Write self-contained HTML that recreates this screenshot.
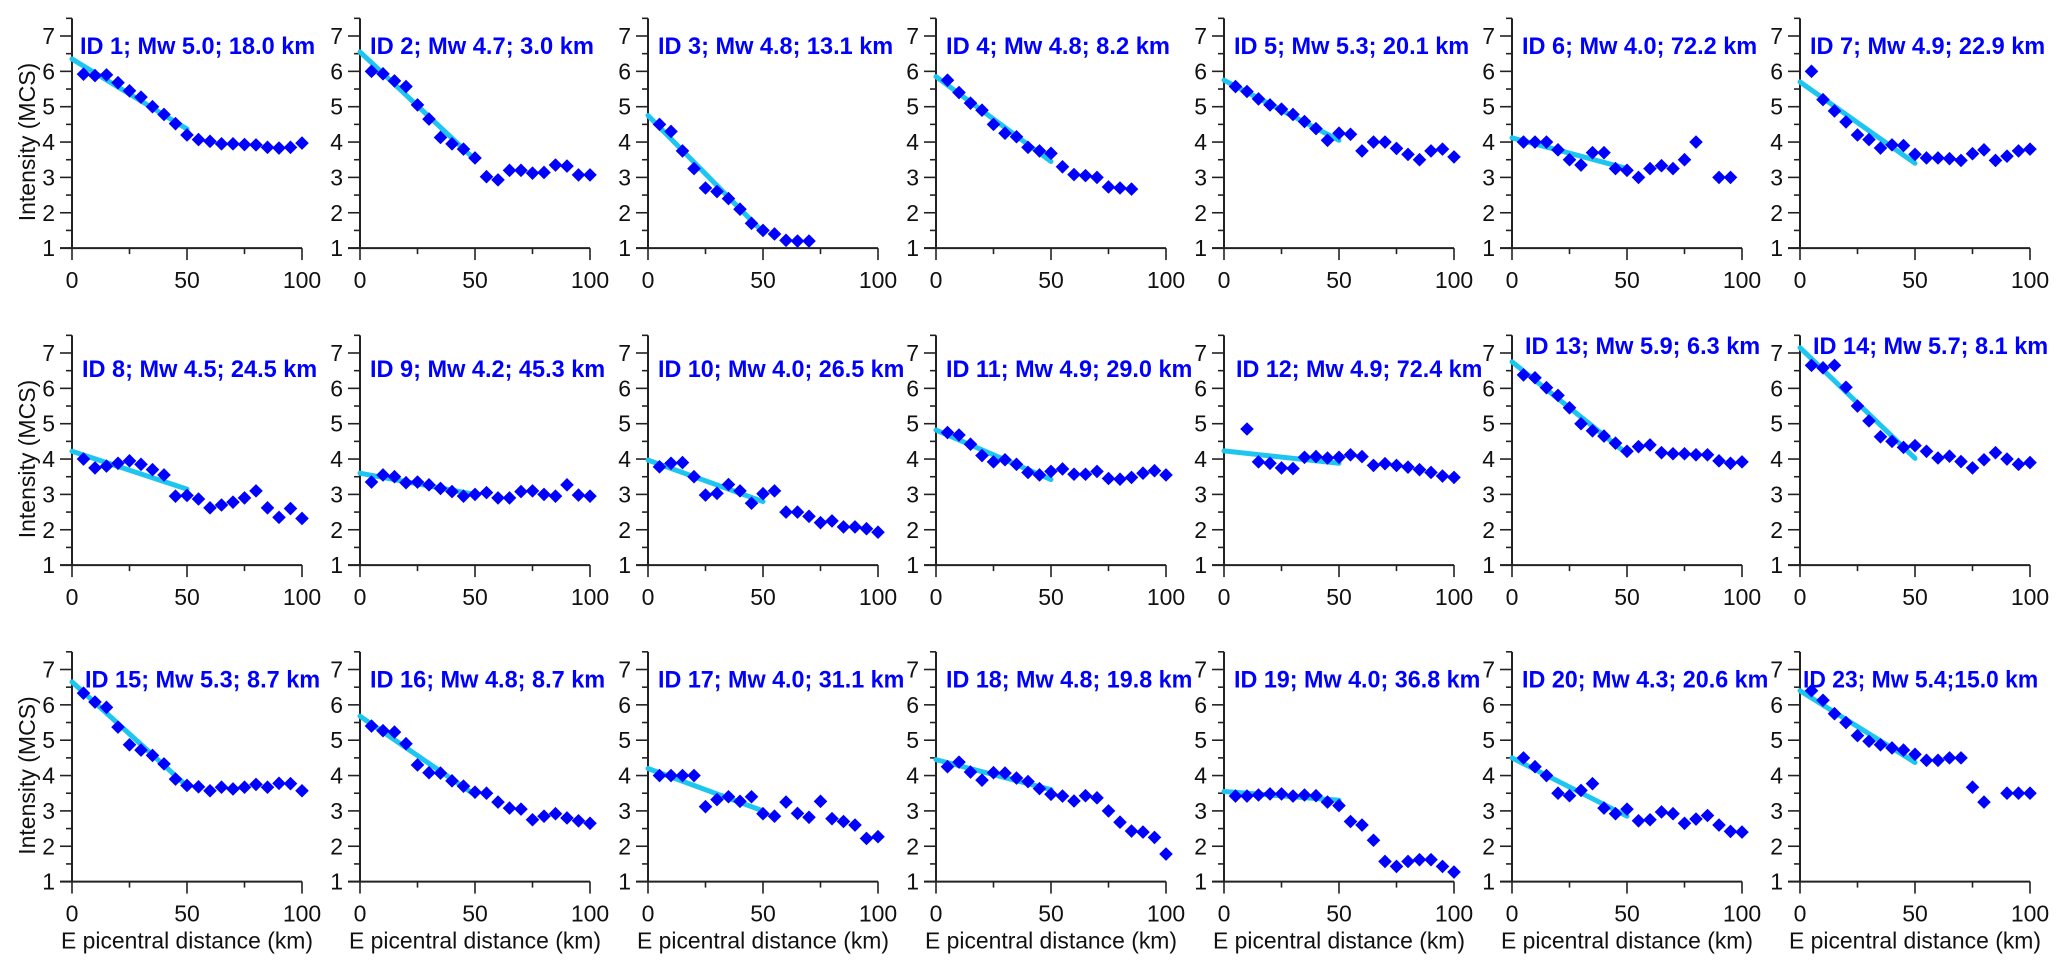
<!DOCTYPE html>
<html><head><meta charset="utf-8"><style>
html,body{margin:0;padding:0;background:#fff;}
svg{display:block;}
</style></head><body>
<svg id="chart" width="2067" height="971" viewBox="0 0 2067 971" xmlns="http://www.w3.org/2000/svg"></svg>
<script>
const distances = [5,10,15,20,25,30,35,40,45,50,55,60,65,70,75,80,85,90,95,100];
const titles = ["ID 1; Mw 5.0; 18.0 km","ID 2; Mw 4.7; 3.0 km","ID 3; Mw 4.8; 13.1 km","ID 4; Mw 4.8; 8.2 km","ID 5; Mw 5.3; 20.1 km","ID 6; Mw 4.0; 72.2 km","ID 7; Mw 4.9; 22.9 km",
"ID 8; Mw 4.5; 24.5 km","ID 9; Mw 4.2; 45.3 km","ID 10; Mw 4.0; 26.5 km","ID 11; Mw 4.9; 29.0 km","ID 12; Mw 4.9; 72.4 km","ID 13; Mw 5.9; 6.3 km","ID 14; Mw 5.7; 8.1 km",
"ID 15; Mw 5.3; 8.7 km","ID 16; Mw 4.8; 8.7 km","ID 17; Mw 4.0; 31.1 km","ID 18; Mw 4.8; 19.8 km","ID 19; Mw 4.0; 36.8 km","ID 20; Mw 4.3; 20.6 km","ID 23; Mw 5.4;15.0 km"];
const p1 = [5.92,5.88,5.9,5.68,5.45,5.27,5.0,4.78,4.52,4.2,4.07,4.02,3.95,3.95,3.93,3.92,3.85,3.83,3.85,3.97];
const p2 = [6.0,5.93,5.73,5.57,5.05,4.65,4.13,3.95,3.8,3.55,3.02,2.93,3.2,3.2,3.12,3.14,3.35,3.32,3.07,3.07];
const p3 = [4.5,4.3,3.75,3.25,2.7,2.6,2.4,2.1,1.7,1.5,1.4,1.22,1.2,1.2,null,null,null,null,null,null];
const p4 = [5.75,5.4,5.1,4.9,4.5,4.25,4.15,3.85,3.75,3.68,3.3,3.08,3.05,3.0,2.73,2.7,2.67,null,null,null];
const p5 = [5.57,5.43,5.22,5.05,4.93,4.78,4.58,4.38,4.05,4.25,4.22,3.75,4.0,4.0,3.82,3.65,3.5,3.75,3.8,3.58];
const p6 = [4.0,4.0,4.0,3.78,3.5,3.35,3.7,3.7,3.25,3.2,3.0,3.25,3.33,3.25,3.5,4.0,null,3.0,3.0,null];
const p7 = [6.0,5.2,4.88,4.57,4.2,4.07,3.83,3.92,3.9,3.65,3.55,3.55,3.53,3.48,3.67,3.78,3.48,3.6,3.75,3.8];
const p8 = [4.0,3.75,3.8,3.88,3.95,3.85,3.7,3.55,2.95,2.97,2.87,2.62,2.7,2.78,2.9,3.1,2.62,2.35,2.6,2.32];
const p9 = [3.35,3.55,3.5,3.33,3.35,3.27,3.17,3.08,2.95,3.0,3.05,2.9,2.9,3.08,3.1,3.0,2.95,3.27,2.98,2.95];
const p10 = [3.78,3.88,3.9,3.5,2.98,3.03,3.28,3.1,2.75,3.02,3.1,2.5,2.5,2.38,2.2,2.25,2.08,2.08,2.03,1.93];
const p11 = [4.75,4.68,4.42,4.1,3.92,3.98,3.85,3.62,3.55,3.65,3.72,3.57,3.57,3.65,3.45,3.43,3.48,3.6,3.67,3.55];
const p12 = [null,4.85,3.92,3.88,3.75,3.73,4.05,4.07,4.03,4.05,4.12,4.07,3.82,3.87,3.82,3.77,3.7,3.62,3.52,3.48];
const p13 = [6.38,6.3,6.02,5.8,5.45,5.0,4.8,4.65,4.45,4.22,4.35,4.4,4.18,4.15,4.15,4.12,4.12,3.95,3.88,3.92];
const p14 = [6.65,6.58,6.65,6.03,5.5,5.08,4.63,4.5,4.33,4.38,4.22,4.03,4.08,3.93,3.75,3.98,4.18,4.0,3.85,3.9];
const p15 = [6.33,6.08,5.93,5.37,4.87,4.72,4.57,4.33,3.9,3.72,3.68,3.57,3.67,3.62,3.67,3.75,3.67,3.78,3.77,3.57];
const p16 = [5.4,5.27,5.23,4.9,4.3,4.08,4.07,3.85,3.7,3.53,3.5,3.25,3.08,3.05,2.75,2.85,2.92,2.8,2.72,2.65];
const p17 = [4.0,4.0,4.0,4.0,3.12,3.32,3.4,3.27,3.4,2.92,2.85,3.25,2.93,2.82,3.27,2.78,2.7,2.6,2.22,2.27];
const p18 = [4.25,4.38,4.1,3.87,4.08,4.07,3.93,3.83,3.63,3.47,3.42,3.28,3.43,3.37,3.0,2.68,2.43,2.4,2.25,1.78];
const p19 = [3.42,3.42,3.45,3.48,3.48,3.42,3.45,3.43,3.25,3.15,2.7,2.6,2.17,1.57,1.43,1.57,1.62,1.62,1.43,1.27];
const p20 = [4.5,4.25,4.0,3.5,3.43,3.58,3.77,3.08,2.92,3.05,2.72,2.75,2.97,2.92,2.65,2.77,2.87,2.6,2.42,2.4];
const p23 = [6.4,6.13,5.75,5.5,5.13,4.97,4.87,4.78,4.72,4.6,4.43,4.43,4.5,4.5,3.67,3.25,null,3.5,3.5,3.5];
const series = [p1,p2,p3,p4,p5,p6,p7,p8,p9,p10,p11,p12,p13,p14,p15,p16,p17,p18,p19,p20,p23];
const fitStart = [6.35,6.55,4.75,5.85,5.75,4.12,5.7,4.22,3.6,3.97,4.82,4.23,6.75,7.15,6.65,5.68,4.2,4.45,3.55,4.5,6.4];
const fitEnd   = [4.37,3.5,1.45,3.45,4.05,3.25,3.4,3.15,3.0,2.8,3.42,3.88,4.15,4.02,3.7,3.45,3.0,3.6,3.3,2.85,4.37];
const fitEndDist = 50;
const yTicks = [1,2,3,4,5,6,7];
const xTicks = [0,50,100];

const NS = "http://www.w3.org/2000/svg";
const svg = document.getElementById("chart");
function mk(tag, attrs, parent){
  const e = document.createElementNS(NS, tag);
  for (const k in attrs) e.setAttribute(k, attrs[k]);
  (parent||svg).appendChild(e);
  return e;
}
const rowTop7 = [36, 353, 669.5];
const unit = 35.35;
const colX0 = 72, colStep = 288, plotW = 230;
const titleDy = [9,9,9,9,9,9,9, 15,15,15,15,15,-8,-8, 9,9,9,9,9,9,9];
const titleDx = [8,10,10,10,10,10,10, 10,10,10,10,12,13,13, 13,10,10,10,10,10,3];
const FONT = '"Liberation Sans", sans-serif';

series.forEach((vals, i) => {
  const r = Math.floor(i/7), c = i%7;
  const x0 = colX0 + c*colStep;
  const y7 = rowTop7[r];
  const xs = d => x0 + d/100*plotW;
  const ys = v => y7 + (7 - v)*unit;
  const g = mk("g", {});
  
  
  // axes
  const ax = mk("path", {d:`M${x0} ${ys(7.5)} V${ys(1)} H${xs(100)} M${x0-12} ${ys(1)} H${x0}`, stroke:"#222", "stroke-width":2, fill:"none"}, g);
  
  
  for (let v=1; v<=7.5; v+=0.5){
    const major = Number.isInteger(v);
    mk("line",{x1:x0-(major?12:6),x2:x0,y1:ys(v),y2:ys(v),stroke:"#222","stroke-width":1.6},g);
  }
  yTicks.forEach(v=>{
    const t = mk("text",{x:x0-17,y:ys(v)+8,"text-anchor":"end","font-family":FONT,"font-size":23,fill:"#111"},g);
    t.textContent = v;
    
    
  });
  [0,25,50,75,100].forEach(d=>{
    const major = d%50===0;
    mk("line",{x1:xs(d),x2:xs(d),y1:ys(1),y2:ys(1)+(major?12:6),stroke:"#222","stroke-width":1.6},g);
  });
  xTicks.forEach(d=>{
    const t = mk("text",{x:xs(d),y:ys(1)+40,"text-anchor":"middle","font-family":FONT,"font-size":23,fill:"#111"},g);
    t.textContent = d;
    
    
  });
  // fit line
  const fl = mk("line",{x1:xs(0),y1:ys(fitStart[i]),x2:xs(fitEndDist),y2:ys(fitEnd[i]),stroke:"#1ec6ef","stroke-width":5,"stroke-linecap":"round"},g);
  
  
  // points
  vals.forEach((v,k)=>{
    if (v===null || v===undefined) return;
    const cx = xs(distances[k]), cy = ys(v), h = 6.8;
    const p = mk("polygon",{points:`${cx},${cy-h} ${cx+h},${cy} ${cx},${cy+h} ${cx-h},${cy}`,fill:"#0000ff"},g);
    
    
  });
  // title
  const tt = mk("text",{x:x0+titleDx[i],y:y7+titleDy[i]+9,"font-family":FONT,"font-size":24,"font-weight":"bold",fill:"#0000ff",textLength:titles[i].length*11.2,lengthAdjust:"spacingAndGlyphs"},g);
  tt.textContent = titles[i];
  
  
  // axis titles
  if (c===0){
    const cy = ys(4);
    const yt = mk("text",{x:0,y:0,transform:`translate(35 ${cy}) rotate(-90)`,"text-anchor":"middle","font-family":FONT,"font-size":23,fill:"#111"},g);
    yt.textContent = "Intensity (MCS)";
    
    
  }
  if (r===2){
    const xt = mk("text",{x:xs(50),y:ys(1)+67,"text-anchor":"middle","font-family":FONT,"font-size":23,fill:"#111",textLength:252,lengthAdjust:"spacingAndGlyphs"},g);
    xt.textContent = "E picentral distance (km)";
    
    
  }
});
</script>
</body></html>
